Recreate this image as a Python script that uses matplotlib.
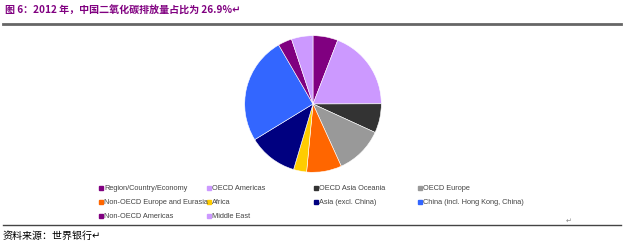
import matplotlib
matplotlib.use("Agg")
import matplotlib.pyplot as plt
from matplotlib.lines import Line2D

plt.rcParams['font.family'] = ['Noto Sans CJK SC', 'DejaVu Sans']

# 数据（从图中估读，单位 %）
regions = ["Region/Country/Economy", "OECD Americas", "OECD Asia Oceania", "OECD Europe",
           "Non-OECD Europe and Eurasia", "Africa", "Asia (excl. China)",
           "China (incl. Hong Kong, China)", "Non-OECD Americas", "Middle East"]
shares = [5.9, 19.1, 6.9, 11.4, 8.3, 3.1, 11.7, 25.4, 3.3, 5.1]
colors = ["#800080", "#CC99FF", "#333333", "#999999", "#FF6600",
          "#FFCC00", "#000080", "#3366FF", "#800080", "#CC99FF"]

title = "图 6：2012 年，中国二氧化碳排放量占比为 26.9%↵"
source = "资料来源：世界银行↵"

W, H = 628, 243
fig = plt.figure(figsize=(W / 100, H / 100), dpi=100)

# 饼图
cx, cy, r = 313, 104, 69
ax = fig.add_axes([(cx - r) / W, (H - cy - r) / H, 2 * r / W, 2 * r / H])
ax.pie(shares, colors=colors, startangle=90, counterclock=False,
       wedgeprops=dict(linewidth=0.4, edgecolor="white"))
ax.set_xlim(-1.01, 1.01)
ax.set_ylim(-1.01, 1.01)
ax.set_aspect("equal")
ax.axis("off")

# 标题与分隔线
fig.text(5 / W, 1 - 11 / H, title, fontsize=7.2, fontweight="bold",
         color="#800080", va="center", ha="left")
fig.add_artist(Line2D([3 / W, 621 / W], [1 - 24 / H, 1 - 24 / H],
                      color="#666666", linewidth=2))
fig.add_artist(Line2D([3 / W, 621 / W], [1 - 225 / H, 1 - 225 / H],
                      color="#444444", linewidth=1))
fig.text(566 / W, 1 - 221 / H, "↵", fontsize=5, color="#888888",
         ha="left", va="center", family=["DejaVu Sans"])
fig.text(3 / W, 1 - 236 / H, source, fontsize=7.2, color="black",
         va="center", ha="left")

# 图例（4 列 3 行）
col_x = [101, 209, 316, 420]
row_y = [188, 202, 216]
for i, (name, c) in enumerate(zip(regions, colors)):
    x = col_x[i % 4]
    y = row_y[i // 4]
    fig.add_artist(Line2D([x / W], [1 - y / H], marker="s", markersize=2.8,
                          color=c, linestyle="none"))
    fig.text((x + 3) / W, 1 - y / H, name, fontsize=5.3, color="#444444",
             va="center", ha="left", family=["Liberation Sans"])

fig.savefig("out.png", dpi=100)
